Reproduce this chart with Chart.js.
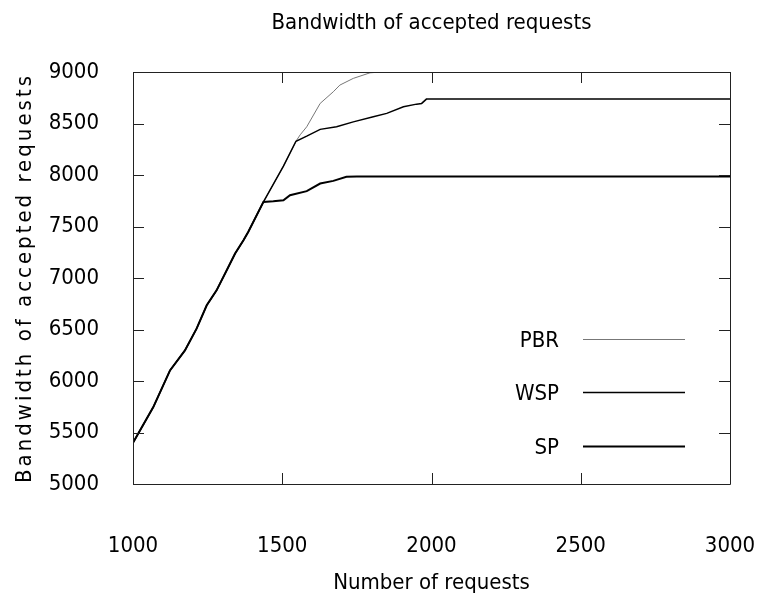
<!DOCTYPE html>
<html>
<head>
<meta charset="utf-8">
<script src="https://cdn.jsdelivr.net/npm/chart.js@4/dist/chart.umd.min.js"></script>
<style>
  html, body { margin: 0; padding: 0; background: #fff; }
  #c { display: block; }
</style>
</head>
<body>
<canvas id="c" width="765" height="598"></canvas>
<script>
// ---- data ----
const chartTitle = "Bandwidth of accepted requests";
const xTitle = "Number of requests";
const yTitle = "Bandwidth of accepted requests";
const seriesNames = ["PBR", "WSP", "SP"];

// shared rising segment (all three curves coincide)
const commonX = [1000, 1068, 1124, 1174, 1213, 1247, 1280, 1314, 1342, 1370, 1386, 1437];
const commonY = [5400, 5747, 6103, 6297, 6508, 6735, 6880, 7075, 7237, 7366, 7447, 7739];

// SP after its knee
const spX = [1470, 1504, 1526, 1582, 1627, 1671, 1715, 1750, 3000];
const spY = [7745, 7755, 7804, 7843, 7917, 7943, 7982, 7985, 7985];

// WSP after SP knee
const wspX = [1504, 1546, 1582, 1627, 1682, 1738, 1805, 1850, 1906, 1950, 1967, 1983, 3000];
const wspY = [8086, 8328, 8377, 8443, 8468, 8516, 8565, 8598, 8662, 8688, 8695, 8737, 8737];

// PBR after SP knee
const pbrX = [1504, 1546, 1560, 1582, 1627, 1671, 1693, 1738, 1794, 1830, 3000];
const pbrY = [8086, 8328, 8390, 8468, 8695, 8808, 8873, 8938, 8992, 9000, 9000];

const xTicks = [1000, 1500, 2000, 2500, 3000];
const yTicks = [5000, 5500, 6000, 6500, 7000, 7500, 8000, 8500, 9000];

function pts(xs, ys) {
  const a = commonX.map((x, i) => ({ x: x, y: commonY[i] }));
  return a.concat(xs.map((x, i) => ({ x: x, y: ys[i] })));
}

const FONT = "'DejaVu Sans Condensed', 'DejaVu Sans', sans-serif";
const FS = 22;

const framePlugin = {
  id: 'frame',
  afterDatasetsDraw(chart) {
    const { ctx, chartArea: a, scales } = chart;
    ctx.save();
    ctx.strokeStyle = '#222';
    ctx.lineWidth = 1;
    ctx.beginPath();
    ctx.rect(Math.round(a.left) + 0.5, Math.round(a.top) + 0.5,
             Math.round(a.right - a.left), Math.round(a.bottom - a.top));
    ctx.stroke();
    const L = 11;
    ctx.beginPath();
    xTicks.forEach(v => {
      const px = Math.round(scales.x.getPixelForValue(v)) + 0.5;
      ctx.moveTo(px, a.bottom); ctx.lineTo(px, a.bottom - L);
      ctx.moveTo(px, a.top); ctx.lineTo(px, a.top + L);
    });
    yTicks.forEach(v => {
      const py = Math.round(scales.y.getPixelForValue(v)) + 0.5;
      ctx.moveTo(a.left, py); ctx.lineTo(a.left + L, py);
      ctx.moveTo(a.right, py); ctx.lineTo(a.right - L, py);
    });
    ctx.stroke();

    // legend (gnuplot style: label then line sample)
    const ds = chart.data.datasets;
    const rowsFromBottom = [145, 92, 38];
    ctx.font = FS + 'px ' + FONT;
    ctx.textAlign = 'right';
    ctx.textBaseline = 'middle';
    ds.forEach((d, i) => {
      const y = Math.round(a.bottom - rowsFromBottom[i]) + 0.5;
      ctx.fillStyle = '#000';
      ctx.fillText(d.label, a.right - 171, y + 2);
      ctx.strokeStyle = d.borderColor;
      ctx.lineWidth = d.borderWidth;
      ctx.beginPath();
      ctx.moveTo(a.right - 147, y);
      ctx.lineTo(a.right - 45, y);
      ctx.stroke();
    });
    ctx.restore();
  }
};

const chart = new Chart(document.getElementById('c'), {
  type: 'line',
  data: {
    datasets: [
      { label: seriesNames[0], data: pts(pbrX, pbrY), borderColor: '#777', borderWidth: 1, order: 3 },
      { label: seriesNames[1], data: pts(wspX, wspY), borderColor: '#000', borderWidth: 1.5, order: 2 },
      { label: seriesNames[2], data: pts(spX, spY), borderColor: '#000', borderWidth: 2, order: 1 }
    ]
  },
  options: {
    responsive: false,
    animation: false,
    elements: { point: { radius: 0 }, line: { tension: 0, fill: false } },
    layout: { padding: { left: 0, right: 35, top: 0, bottom: 0 } },
    plugins: {
      legend: { display: false },
      tooltip: { enabled: false },
      title: {
        display: true,
        fullSize: false,
        text: chartTitle,
        color: '#000',
        font: { family: FONT, size: FS, weight: 'normal', lineHeight: 1.2 },
        padding: { top: 10, bottom: 35.6 }
      }
    },
    scales: {
      x: {
        type: 'linear',
        min: 1000, max: 3000,
        afterBuildTicks: s => { s.ticks = xTicks.map(v => ({ value: v })); },
        afterFit: s => { s.height = 114; s.paddingLeft = 0; s.paddingRight = 0; },
        grid: { display: false },
        border: { display: false },
        ticks: { color: '#000', padding: 41, maxRotation: 0, autoSkip: false,
                 callback: v => String(v),
                 font: { family: FONT, size: FS, lineHeight: 1.2 } },
        title: { display: true, text: xTitle, color: '#000',
                 font: { family: FONT, size: FS, lineHeight: 1.2 },
                 padding: { top: 0, bottom: 2 } }
      },
      y: {
        type: 'linear',
        min: 5000, max: 9000,
        afterBuildTicks: s => { s.ticks = yTicks.map(v => ({ value: v })); },
        afterFit: s => { s.width = 133; s.paddingTop = 0; s.paddingBottom = 0; },
        grid: { display: false },
        border: { display: false },
        ticks: { color: '#000', padding: 26, autoSkip: false,
                 callback: v => String(v),
                 font: { family: FONT, size: FS, lineHeight: 1.2 } },
        title: { display: true, text: yTitle, color: '#000',
                 font: { family: FONT, size: FS, lineHeight: 1.2 },
                 padding: { top: 12, bottom: 0 } }
      }
    }
  },
  plugins: [framePlugin]
});

// letter-spaced y-axis title, as in the reference
const ys = chart.scales.y;
const origDrawTitle = ys.drawTitle;
ys.drawTitle = function () {
  const c = this.ctx;
  c.save();
  c.letterSpacing = '3px';
  origDrawTitle.apply(this, arguments);
  c.restore();
};
chart.draw();
</script>
</body>
</html>
